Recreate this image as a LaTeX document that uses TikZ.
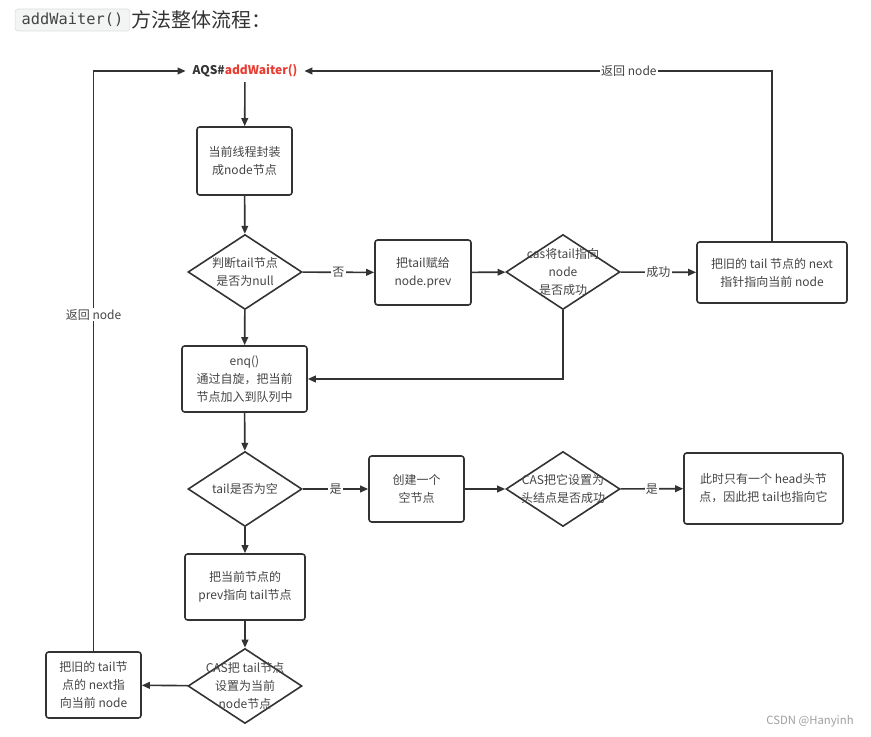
\documentclass[tikz,border=0pt]{standalone}
\usepackage{fontspec}
\setmainfont{Noto Sans CJK SC}
\setmonofont{DejaVu Sans Mono}
\usetikzlibrary{arrows.meta,shapes.geometric}
\definecolor{linegray}{RGB}{51,51,51}
\definecolor{textgray}{RGB}{68,68,68}
\definecolor{aqsred}{RGB}{232,60,50}
\definecolor{codebg}{RGB}{243,244,244}
\definecolor{codeframe}{RGB}{218,220,222}

\begin{document}
\begin{tikzpicture}[x=0.75pt,y=-0.75pt,
	flow/.style={draw=linegray,line width=1.2pt,-{Triangle[length=6pt,width=5pt]}},
	stepbox/.style={draw=linegray,line width=1.2pt,rounded corners=2pt,align=center,
		text=textgray,font=\fontsize{9pt}{13.5pt}\selectfont},
	decision/.style={draw=linegray,line width=1.2pt,diamond,inner sep=0pt,
		minimum width=85.5pt,minimum height=56.25pt},
	dtext/.style={align=center,text=textgray,font=\fontsize{9pt}{13.5pt}\selectfont},
	answer/.style={fill=white,inner sep=1pt,text=textgray,font=\fontsize{9pt}{11pt}\selectfont}
]
	%Fix the page to the size of the reference
	\useasboundingbox (0,0) rectangle (871,737);

	%Heading above the chart
	\node[draw=codeframe,fill=codebg,rounded corners=2pt,inner sep=0pt,
		minimum width=86pt,minimum height=16.5pt,text=textgray,
		font=\ttfamily\fontsize{11.5pt}{13pt}\selectfont] (code) at (72.5,20) {addWaiter()};
	\node[anchor=west,inner sep=1pt,text=linegray,font=\fontsize{15pt}{17pt}\selectfont]
		(heading) at (code.east) {方法整体流程：};

	%Entry point
	\node[inner xsep=5pt,font=\bfseries\fontsize{9pt}{11pt}\selectfont,text=linegray]
		(aqs) at (245,71) {AQS\#\textcolor{aqsred}{addWaiter()}};

	%Steps and decisions
	\node[stepbox,minimum width=71.25pt,minimum height=51pt] (b1) at (244.5,161)
		{当前线程封装\\成node节点};
	\node[decision] (d1) at (245,272) {};
	\node[dtext] (t1) at (d1) {判断tail节点\\是否为null};
	\node[stepbox,minimum width=72pt,minimum height=48.75pt] (b2) at (423,272.5)
		{把tail赋给\\node.prev};
	\node[decision] (d2) at (563,272) {};
	\node[dtext] (t2) at (d2) {cas将tail指向\\node\\是否成功};
	\node[stepbox,minimum width=112.5pt,minimum height=45.75pt] (b3) at (772,272.5)
		{把旧的 tail 节点的 next\\指针指向当前 node};
	\node[stepbox,minimum width=93.75pt,minimum height=49.5pt] (b4) at (244.5,379)
		{enq()\\通过自旋，把当前\\节点加入到队列中};
	\node[decision] (d3) at (245,489) {};
	\node[dtext] (t3) at (d3) {tail是否为空};
	\node[stepbox,minimum width=71.25pt,minimum height=49.5pt] (b5) at (416.5,489)
		{创建一个\\空节点};
	\node[decision] (d4) at (563,489) {};
	\node[dtext] (t4) at (d4) {CAS把它设置为\\头结点是否成功};
	\node[stepbox,minimum width=119.25pt,minimum height=53.25pt] (b6) at (763.5,488.5)
		{此时只有一个 head头节\\点，因此把 tail也指向它};
	\node[stepbox,minimum width=90pt,minimum height=49.5pt] (b7) at (245,587)
		{把当前节点的\\prev指向 tail节点};
	\node[decision] (d5) at (245,686) {};
	\node[dtext] (t5) at (d5) {CAS把 tail节点\\设置为当前\\node节点};
	\node[stepbox,minimum width=71.25pt,minimum height=49.5pt] (b8) at (93.5,685)
		{把旧的 tail节\\点的 next指\\向当前 node};

	%Connectors
	\draw[flow] (aqs) -- (b1);
	\draw[flow] (b1) -- (d1);
	\draw[flow] (d1) -- node[answer] {否} (b2);
	\draw[flow] (b2) -- (d2);
	\draw[flow] (d2) -- node[answer] {成功} (b3);
	\draw[flow] (b3.north) |- node[answer,pos=0.653] {返回 node} (aqs.east);
	\draw[flow] (d2.south) |- (b4.east);
	\draw[flow] (d1) -- (b4);
	\draw[flow] (b4) -- (d3);
	\draw[flow] (d3) -- node[answer] {是} (b5);
	\draw[flow] (b5) -- (d4);
	\draw[flow] (d4) -- node[answer] {是} (b6);
	\draw[flow] (d3) -- (b7);
	\draw[flow] (b7) -- (d5);
	\draw[flow] (d5) -- (b8);
	\draw[flow] (b8.north) |- node[answer,pos=0.29] {返回 node} (aqs.west);

	%Watermark
	\node[text=gray!75,font=\fontsize{8.5pt}{10pt}\selectfont] (mark) at (810,721) {CSDN @Hanyinh};
\end{tikzpicture}
\end{document}
